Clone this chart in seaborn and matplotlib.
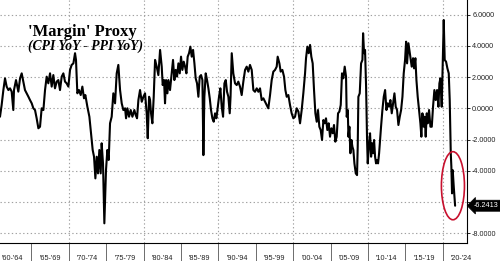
import numpy as np
import pandas as pd
import matplotlib
matplotlib.use("Agg")
import matplotlib.pyplot as plt
import seaborn as sns
from matplotlib.patches import Ellipse
from matplotlib.ticker import FixedLocator, FuncFormatter, NullFormatter

# ---------------- data ----------------
dates = [
    1960.80, 1961.02, 1961.25, 1961.47, 1961.69, 1961.92, 1962.14, 1962.36, 1962.58, 1962.67,
    1962.94, 1963.25, 1963.48, 1963.70, 1963.92, 1964.14, 1964.37, 1964.59, 1964.81, 1965.04,
    1965.26, 1965.48, 1965.70, 1965.93, 1966.15, 1966.37, 1966.60, 1966.82, 1967.04, 1967.26,
    1967.49, 1967.71, 1967.93, 1968.15, 1968.38, 1968.60, 1968.82, 1969.05, 1969.27, 1969.49,
    1969.71, 1969.94, 1970.16, 1970.38, 1970.61, 1970.83, 1970.96, 1971.14, 1971.36, 1971.59,
    1971.81, 1972.03, 1972.21, 1972.48, 1972.75, 1972.97, 1973.19, 1973.37, 1973.55, 1973.73,
    1973.90, 1974.08, 1974.26, 1974.39, 1974.57, 1974.75, 1974.97, 1975.15, 1975.33, 1975.51,
    1975.73, 1975.95, 1976.18, 1976.40, 1976.62, 1976.85, 1977.07, 1977.29, 1977.52, 1977.65,
    1977.83, 1978.05, 1978.27, 1978.50, 1978.76, 1978.94, 1979.12, 1979.30, 1979.52, 1979.75,
    1979.97, 1980.19, 1980.41, 1980.55, 1980.73, 1980.86, 1980.99, 1981.17, 1981.35, 1981.53,
    1981.75, 1981.97, 1982.20, 1982.42, 1982.55, 1982.73, 1982.86, 1983.00, 1983.18, 1983.31,
    1983.53, 1983.76, 1983.93, 1984.11, 1984.29, 1984.47, 1984.65, 1984.83, 1985.00, 1985.18,
    1985.36, 1985.54, 1985.72, 1985.89, 1986.07, 1986.25, 1986.43, 1986.61, 1986.79, 1986.96,
    1987.14, 1987.32, 1987.50, 1987.68, 1987.86, 1987.99, 1988.12, 1988.30, 1988.48, 1988.66,
    1988.84, 1989.01, 1989.19, 1989.37, 1989.55, 1989.73, 1989.91, 1990.08, 1990.26, 1990.44,
    1990.62, 1990.80, 1990.98, 1991.15, 1991.33, 1991.51, 1991.62, 1991.70, 1991.78, 1991.99,
    1992.22, 1992.44, 1992.66, 1992.89, 1993.11, 1993.33, 1993.56, 1993.78, 1994.00, 1994.22,
    1994.45, 1994.67, 1994.89, 1995.12, 1995.34, 1995.56, 1995.78, 1996.01, 1996.23, 1996.45,
    1996.67, 1996.90, 1997.12, 1997.34, 1997.57, 1997.79, 1997.92, 1998.15, 1998.32, 1998.55,
    1998.77, 1998.95, 1999.13, 1999.35, 1999.57, 1999.79, 2000.02, 2000.24, 2000.46, 2000.69,
    2000.91, 2001.13, 2001.35, 2001.58, 2001.71, 2001.89, 2002.07, 2002.25, 2002.42, 2002.60,
    2002.78, 2002.96, 2003.14, 2003.31, 2003.49, 2003.67, 2003.85, 2004.03, 2004.21, 2004.38,
    2004.56, 2004.74, 2004.92, 2005.10, 2005.28, 2005.45, 2005.63, 2005.81, 2005.99, 2006.17,
    2006.35, 2006.52, 2006.70, 2006.88, 2007.06, 2007.15, 2007.29, 2007.38, 2007.51, 2007.64,
    2007.78, 2007.91, 2008.04, 2008.18, 2008.36, 2008.53, 2008.62, 2008.71, 2008.89, 2009.07,
    2009.25, 2009.34, 2009.47, 2009.60, 2009.74, 2009.87, 2009.96, 2010.14, 2010.27, 2010.41,
    2010.54, 2010.67, 2010.81, 2010.94, 2011.07, 2011.21, 2011.34, 2011.48, 2011.61, 2011.74,
    2011.92, 2012.10, 2012.28, 2012.46, 2012.63, 2012.81, 2012.99, 2013.17, 2013.35, 2013.53,
    2013.70, 2013.88, 2014.06, 2014.24, 2014.42, 2014.60, 2014.77, 2014.95, 2015.09, 2015.22,
    2015.40, 2015.53, 2015.71, 2015.84, 2016.02, 2016.15, 2016.33, 2016.47, 2016.64, 2016.82,
    2017.00, 2017.13, 2017.27, 2017.45, 2017.58, 2017.71, 2017.85, 2017.98, 2018.16, 2018.34,
    2018.52, 2018.69, 2018.87, 2019.05, 2019.23, 2019.41, 2019.54, 2019.68, 2019.85, 2019.99,
    2020.12, 2020.25, 2020.43, 2020.61, 2020.79, 2020.92, 2021.06, 2021.14, 2021.23, 2021.32,
    2021.46, 2021.64,
]

values = [
    -0.54, 0.21, 1.17, 1.92, 1.39, 1.17, 1.28, 1.07, -0.11, 1.17,
    1.81, 1.07, 1.92, 2.24, 1.71, 1.17, 0.96, 0.75, 0.53, 0.32,
    0.00, -0.11, -0.64, -1.28, -1.18, 0.00, -0.11, 1.17, 2.03, 1.60,
    2.24, 1.39, 2.13, 1.28, 1.71, 1.81, 1.17, 2.03, 2.24, 1.71,
    1.60, 1.39, 2.46, 2.78, 2.88, 3.53, 3.10, 0.96, 1.17, 0.85,
    1.39, 0.64, 0.85, 0.10, -0.54, -1.60, -2.67, -3.10, -4.49, -3.10,
    -4.17, -2.67, -4.17, -2.24, -3.53, -7.37, -3.96, -2.67, -3.31, -0.96,
    -0.54, 0.96, 0.32, 2.24, 2.78, 1.17, 0.32, -0.11, 0.00, -0.64,
    0.00, -0.54, -0.11, -0.54, -0.11, -0.43, -0.64, 0.53, 1.17, 0.42,
    0.74, 0.96, -0.32, -1.92, 0.74, 0.53, -0.32, -0.96, 0.74, 3.10,
    2.67, 2.13, 3.74, 2.67, 1.49, 1.81, 0.32, 1.81, 0.96, 1.81,
    1.17, 2.24, 3.10, 1.81, 2.46, 2.03, 2.88, 2.24, 3.31, 2.46,
    2.99, 2.67, 2.24, 3.31, 3.53, 3.95, 3.31, 3.74, 2.88, 1.92,
    1.60, 0.74, 2.03, 2.13, 1.81, -3.00, 0.74, 2.24, 1.81, 1.28,
    0.64, -0.11, -0.64, -0.86, -0.32, -0.64, 0.10, 0.74, 1.28, 0.10,
    -0.54, 1.60, 1.81, 1.06, 0.74, -0.32, 0.74, 2.20, 3.53, 2.24,
    1.60, 1.49, 1.71, 1.38, 0.85, 1.71, 2.46, 2.67, 2.35, 2.78,
    2.46, 1.17, 1.06, 1.28, 1.06, 1.28, 0.53, 0.64, 0.42, 0.21,
    0.00, 0.85, 1.81, 2.35, 2.46, 2.67, 3.31, 2.88, 2.35, 2.46,
    2.03, 1.17, 0.74, 0.85, 0.21, -0.32, -0.64, -0.54, 0.00, -0.21,
    -0.96, -0.11, 0.96, 2.24, 3.21, 3.95, 3.53, 4.06, 3.31, 2.88,
    1.17, -0.32, -0.86, -0.11, -1.18, -1.39, -2.03, -0.75, -0.96, -0.64,
    -1.39, -0.96, -1.82, -1.28, -1.60, -1.07, -2.14, -1.82, -0.32, -0.21,
    0.21, 2.24, 1.92, 2.67, 2.03, -0.54, -0.11, -1.82, -1.18, -2.88,
    -2.03, -2.46, -2.67, -3.53, -4.17, -4.28, -2.46, 0.74, 0.96, 2.88,
    3.10, 4.81, 3.53, 3.74, 1.38, -2.03, -3.53, -2.24, -1.60, -3.10,
    -2.24, -2.88, -2.03, -3.10, -3.53, -3.31, -3.53, -2.88, -2.03, -1.18,
    -0.11, 0.74, 1.17, -0.11, 0.32, 0.10, 0.53, -0.32, 0.32, 0.96,
    0.10, -0.11, -1.07, -0.54, -0.11, 0.74, 2.24, 3.10, 4.27, 2.88,
    4.17, 3.74, 3.10, 2.67, 3.21, 2.56, 3.21, 1.81, 0.74, -0.11,
    -0.96, -1.82, -0.32, -1.18, -0.54, -1.82, -0.32, -0.96, -0.11, -1.18,
    -1.18, 0.10, 1.17, 0.53, 1.17, 0.10, 1.60, 1.92, 0.10, 3.10,
    5.66, 3.10, 2.99, 2.56, 2.24, 0.53, -2.88, -3.74, -5.45, -3.96,
    -5.03, -6.2413,
]

period_starts = [1960, 1965, 1970, 1975, 1980, 1985, 1990, 1995, 2000, 2005, 2010, 2015, 2020]
period_labels = ["'60-'64", "'65-'69", "'70-'74", "'75-'79", "'80-'84", "'85-'89", "'90-'94",
                 "'95-'99", "'00-'04", "'05-'09", "'10-'14", "'15-'19", "'20-'24"]
decade_grid = [1970, 1980, 1990, 2000, 2010, 2020]
y_ticks = [-8, -6, -4, -2, 0, 2, 4, 6]
title_text = "'Margin' Proxy"
subtitle_text = "(CPI YoY - PPI YoY)"
highlight_from = 2021.0

df = pd.DataFrame({"date": dates, "value": values})

# ---------------- style ----------------
sns.set_style("white")
plt.rcParams["font.family"] = ["Liberation Sans", "DejaVu Sans"]

W, H = 500, 261
fig = plt.figure(figsize=(W / 100, H / 100), dpi=100)
ax = fig.add_axes([0, 18 / H, 467 / W, 243 / H])

sns.lineplot(data=df, x="date", y="value", ax=ax, color="black", linewidth=1.5,
             zorder=4, estimator=None)

ax.set_xlim(1960.8, 2023.23)
ax.set_ylim(-8.63, 6.94)
ax.set_xlabel("")
ax.set_ylabel("")

# grid
grid_kw = dict(color="#a0a0a0", linestyle=(0, (1.2, 2.2)), linewidth=0.8, zorder=1)
for yv in y_ticks:
    ax.axhline(yv, **grid_kw)
for xv in decade_grid:
    ax.axvline(xv, **grid_kw)

# spines
for s in ["left", "top"]:
    ax.spines[s].set_visible(False)
for s in ["right", "bottom"]:
    ax.spines[s].set_visible(True)
    ax.spines[s].set_color("black")
    ax.spines[s].set_linewidth(0.8)

# y axis on right
ax.yaxis.tick_right()
ax.yaxis.set_major_locator(FixedLocator(y_ticks))
last_value = values[-1]
ax.yaxis.set_major_formatter(FuncFormatter(
    lambda v, p: "" if abs(v - round(last_value)) < 1e-9 else f"{v:.4f}"))
ax.tick_params(axis="y", which="major", right=True, left=False, length=2.5, width=0.6,
               pad=1.2, labelsize=5.2, labelcolor="#222222", color="black")

# x axis: separators at period boundaries, labels centered
ax.xaxis.set_major_locator(FixedLocator(period_starts[1:]))
ax.xaxis.set_major_formatter(NullFormatter())
ax.xaxis.set_minor_locator(FixedLocator([p + 2.5 for p in period_starts]))
ax.xaxis.set_minor_formatter(FuncFormatter(
    lambda v, p: period_labels[int(round((v - 2.5 - period_starts[0]) / 5))]))
ax.tick_params(axis="x", which="major", bottom=True, length=18, width=0.6, color="#555555",
               direction="out")
ax.tick_params(axis="x", which="minor", bottom=True, length=0, pad=9, labelsize=5.2,
               labelcolor="#222222")

# last value tag
ax.annotate(f"{last_value:.4f}", xy=(1.0, last_value), xycoords=("axes fraction", "data"),
            xytext=(4.5, 0), textcoords="offset points", ha="left", va="center",
            fontsize=5.2, color="white", annotation_clip=False, zorder=10,
            bbox=dict(boxstyle="larrow,pad=0.28", fc="black", ec="black", lw=0.5))

# red highlight ellipse
hl = df[df["date"] >= highlight_from]
cx = (hl["date"].min() + hl["date"].max()) / 2
cy = (hl["value"].min() + hl["value"].max()) / 2 - 0.4
ew = (hl["date"].max() - hl["date"].min()) + 2.5
eh = (hl["value"].max() - hl["value"].min()) + 1.0
ax.add_patch(Ellipse((cx, cy), ew, eh, fill=False, edgecolor="#c8102e", linewidth=1.2,
                     zorder=5))

# titles
fig.text(28 / W, 1 - 35.5 / H, title_text, fontfamily="Liberation Serif", fontweight="bold",
         fontsize=12, color="black", va="baseline", ha="left")
fig.text(28 / W, 1 - 50 / H, subtitle_text, fontfamily="Liberation Serif", fontweight="bold",
         fontstyle="italic", fontsize=9.8, color="black", va="baseline", ha="left")

fig.savefig("out.png", dpi=100)
